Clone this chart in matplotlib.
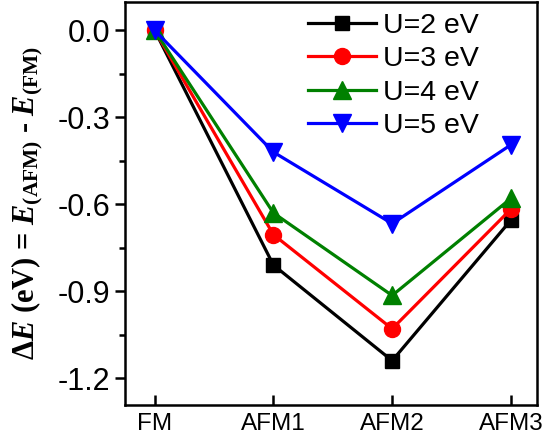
import numpy as np
import matplotlib.pyplot as plt
from matplotlib.ticker import MultipleLocator

# Dados
configs = ['FM', 'AFM1', 'AFM2', 'AFM3']
u2 = [0.0, -0.81, -1.14, -0.655]
u3 = [0.0, -0.705, -1.03, -0.617]
u4 = [0.0, -0.63, -0.915, -0.58]
u5 = [0.0, -0.42, -0.667, -0.395]
labels = ['U=2 eV', 'U=3 eV', 'U=4 eV', 'U=5 eV']

plt.rcParams['font.family'] = 'Liberation Sans'
plt.rcParams['mathtext.fontset'] = 'custom'
plt.rcParams['mathtext.rm'] = 'Liberation Serif:bold'
plt.rcParams['mathtext.it'] = 'Liberation Serif:italic:bold'
plt.rcParams['mathtext.bf'] = 'Liberation Serif:bold'

fig = plt.figure(figsize=(5.42, 4.45), dpi=100)
ax = fig.add_axes([0.2306, 0.0899, 0.7602, 0.9056])

x = np.arange(len(configs))
series = [u2, u3, u4, u5]
cores = ['black', '#ff0000', '#008000', '#0000ff']
marcadores = ['s', 'o', '^', 'v']
tamanhos = [9.5, 11.5, 12.5, 12.5]
for s, c, m, ms, lab in zip(series, cores, marcadores, tamanhos, labels):
    ax.plot(x, s, color=c, marker=m, markersize=ms, linewidth=2.3, label=lab)

ax.set_xlim(-0.25, 3.22)
ax.set_ylim(-1.293, 0.098)
ax.set_xticks(x)
ax.set_xticklabels(configs)
ax.yaxis.set_major_locator(MultipleLocator(0.3))
ax.yaxis.set_minor_locator(MultipleLocator(0.15))
ax.yaxis.set_major_formatter(plt.FuncFormatter(lambda v, p: f'{v:.1f}'))

ax.tick_params(axis='y', which='major', direction='out', length=7, width=1.8, labelsize=22, pad=3.5)
ax.tick_params(axis='y', which='minor', direction='out', length=4, width=1.8)
ax.tick_params(axis='x', which='major', direction='in', length=7, width=1.8, labelsize=17.5, pad=6)
for sp in ax.spines.values():
    sp.set_linewidth(1.8)

ax.set_ylabel(r'$\Delta\mathit{E}$ (eV) = $\mathit{E}_{\rm (AFM)}$ - $\mathit{E}_{\rm (FM)}$',
              fontsize=22, family='Liberation Serif', weight='bold', labelpad=9)

ax.legend(loc='upper left', bbox_to_anchor=(0.444, 0.972), frameon=False, fontsize=20.5,
          handlelength=2.4, labelspacing=0.25, handletextpad=0.25,
          borderpad=0, borderaxespad=0)

fig.savefig('out.png', dpi=100)
